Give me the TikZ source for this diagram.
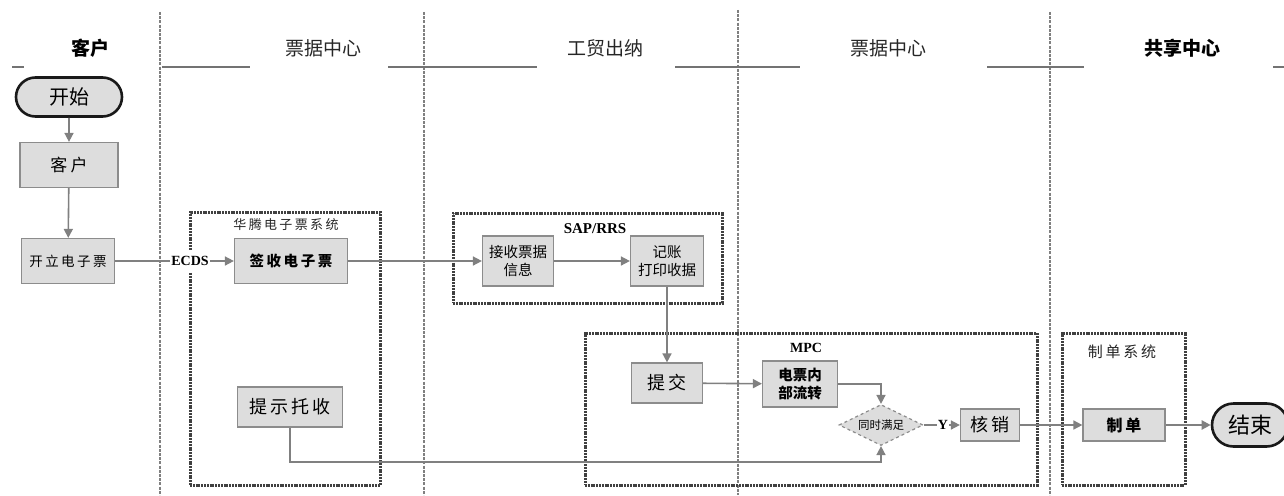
\documentclass[tikz,border=0pt]{standalone}
\usepackage{fontspec}
\setmainfont{Liberation Serif}
\newfontfamily\cjk{Noto Sans CJK SC}
\newfontfamily\cjks[LetterSpace=18]{Noto Sans CJK SC}
\usetikzlibrary{arrows.meta,shapes.geometric,shapes.misc}
\begin{document}
\begin{tikzpicture}[x=1pt,y=-1pt,
  box/.style={draw=black!45, line width=1.2pt, fill=gray!27, inner sep=0pt, align=center, font=\cjks\fontsize{14}{17}\selectfont},
  term/.style={rounded rectangle, draw=black!90, line width=2.6pt, fill=gray!27, inner sep=0pt, font=\cjk\fontsize{20}{22}\selectfont},
  group/.style={draw=black!75, line width=3pt, dash pattern=on 2pt off 0.8pt, inner sep=0pt},
  lane/.style={draw=black!50, line width=1.3pt, dash pattern=on 3pt off 1.2pt},
  hline/.style={draw=black!55, line width=1.8pt},
  head/.style={font=\cjk\fontsize{19}{21}\selectfont, text=black!85},
  conn/.style={draw=black!50, line width=1.6pt},
  arr/.style={conn, -{Triangle[width=9pt,length=9pt]}},
  lbl/.style={font=\bfseries\fontsize{14}{16}\selectfont, inner sep=1pt},
  glbl/.style={font=\cjks\fontsize{13}{15}\selectfont, text=black!85}
]
\useasboundingbox (0,0) rectangle (1284,495);
% lanes
\draw[lane] (160,12) -- (160,495);
\draw[lane] (424,12) -- (424,495);
\draw[lane] (738,10) -- (738,495);
\draw[lane] (1050,12) -- (1050,495);
% header lines
\draw[hline] (12,67) -- (24,67);
\draw[hline] (162,67) -- (250,67);
\draw[hline] (388,67) -- (537,67);
\draw[hline] (675,67) -- (800,67);
\draw[hline] (987,67) -- (1084,67);
\draw[hline] (1273,67) -- (1284,67);
% headers
\node[head, font=\cjk\bfseries\fontsize{19}{21}\selectfont, text=black] (h1) at (90,48) {客户};
\node[head] (h2) at (323,48) {票据中心};
\node[head] (h3) at (605,48) {工贸出纳};
\node[head] (h4) at (888,48) {票据中心};
\node[head, font=\cjk\bfseries\fontsize{19}{21}\selectfont, text=black] (h5) at (1182,48) {共享中心};
% groups
\node[group, minimum width=190pt, minimum height=273pt] (g1) at (285,348.5) {};
\node[glbl] (g1l) at (286,225) {华腾电子票系统};
\node[group, minimum width=269pt, minimum height=90pt] (g2) at (587.5,258) {};
\node[lbl, font=\bfseries\fontsize{15}{17}\selectfont] (g2l) at (595,229) {SAP/RRS};
\node[group, minimum width=452pt, minimum height=152pt] (g3) at (811,409) {};
\node[lbl] (g3l) at (806,348) {MPC};
\node[group, minimum width=123pt, minimum height=152pt] (g4) at (1123.5,409) {};
\node[glbl, font=\cjks\fontsize{15}{17}\selectfont] (g4l) at (1122,352) {制单系统};
% nodes
\node[term, minimum width=106pt, minimum height=39pt] (start) at (69,97) {开始};
\node[box, minimum width=98pt, minimum height=45pt, font=\cjks\fontsize{17}{19}\selectfont] (kehu) at (69,165) {客户};
\node[box, minimum width=93pt, minimum height=45pt, font=\cjks\fontsize{13.5}{16}\selectfont] (kaili) at (68,261) {开立电子票};
\node[lbl, fill=white, inner ysep=6pt] (ecds) at (190,261) {ECDS};
\node[box, minimum width=113pt, minimum height=45pt, font=\cjks\bfseries\fontsize{14.5}{17}\selectfont] (qianshou) at (291,261) {签收电子票};
\node[box, minimum width=105pt, minimum height=40pt, font=\cjks\fontsize{18}{20}\selectfont] (tishi) at (290,407) {提示托收};
\node[box, minimum width=71pt, minimum height=50pt, font=\cjk\fontsize{14.5}{18}\selectfont] (jieshou) at (518,261) {接收票据\\信息};
\node[box, minimum width=73pt, minimum height=50pt, font=\cjk\fontsize{14.5}{18}\selectfont] (jizhang) at (667,261) {记账\\打印收据};
\node[box, minimum width=71pt, minimum height=40pt, font=\cjks\fontsize{18}{20}\selectfont] (tijiao) at (667,383) {提交};
\node[box, minimum width=75pt, minimum height=46pt, font=\cjk\bfseries\fontsize{14.5}{18}\selectfont] (dianpiao) at (800,384) {电票内\\部流转};
\node[diamond, aspect=2, draw=black!45, dashed, line width=1.2pt, fill=gray!27, inner sep=1pt, minimum width=84pt, minimum height=41pt, font=\cjk\fontsize{11.5}{13}\selectfont] (tongshi) at (881,425) {同时满足};
\node[lbl] (yes) at (943,425) {Y};
\node[box, minimum width=59pt, minimum height=32pt, font=\cjks\fontsize{18}{20}\selectfont] (hexiao) at (990,425) {核销};
\node[box, minimum width=82pt, minimum height=32pt, font=\cjks\bfseries\fontsize{16}{18}\selectfont] (zhidan) at (1124,425) {制单};
\node[term, minimum width=76pt, minimum height=43pt, font=\cjk\fontsize{22}{24}\selectfont] (end) at (1250,425) {结束};
\coordinate (c1) at (881,462);
% connectors
\draw[arr] (start) -- (kehu);
\draw[arr] (kehu) -- (kaili);
\draw[conn] (kaili) -- (ecds);
\draw[arr] (ecds) -- (qianshou);
\draw[arr] (qianshou) -- (jieshou);
\draw[arr] (jieshou) -- (jizhang);
\draw[arr] (jizhang) -- (tijiao);
\draw[arr] (tijiao) -- (dianpiao);
\draw[arr] (dianpiao.east) -| (tongshi.north);
\draw[arr] (tishi.south) |- (c1) -- (tongshi.south);
\draw[conn] (tongshi) -- (yes);
\draw[arr] (yes) -- (hexiao);
\draw[arr] (hexiao) -- (zhidan);
\draw[arr, line width=2.6pt] (zhidan) -- (end);
\end{tikzpicture}
\end{document}
